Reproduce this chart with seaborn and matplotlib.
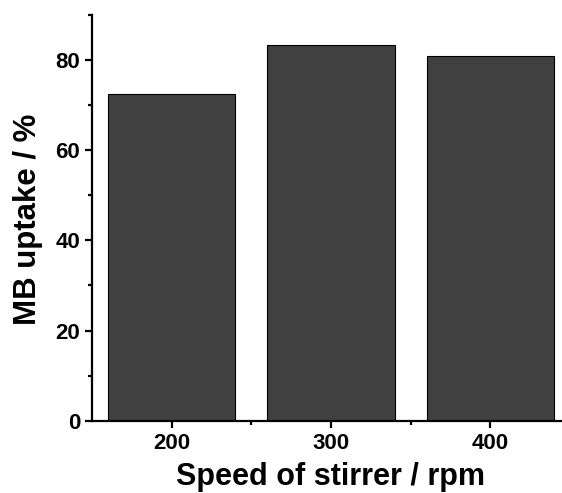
import matplotlib
matplotlib.use("Agg")
import matplotlib.pyplot as plt
import seaborn as sns
import pandas as pd
from matplotlib.ticker import MultipleLocator

speeds = ["200", "300", "400"]
uptake = [72.4, 83.3, 81.0]

df = pd.DataFrame({"speed": speeds, "uptake": uptake})

sns.set_style("ticks")
plt.rcParams['font.family'] = ['Liberation Sans', 'DejaVu Sans']
plt.rcParams['font.weight'] = 'bold'
plt.rcParams['text.color'] = 'black'
plt.rcParams['axes.labelcolor'] = 'black'
plt.rcParams['xtick.color'] = 'black'
plt.rcParams['ytick.color'] = 'black'

fig = plt.figure(figsize=(5.62, 4.93), dpi=100)
W, H = 562, 493
x0, x1 = 92, 570
y0, y1 = 420.7, 15
ax = fig.add_axes([x0 / W, (H - y0) / H, (x1 - x0) / W, (y0 - y1) / H])

sns.barplot(data=df, x="speed", y="uptake", ax=ax, color="#404040",
            saturation=1, width=0.8, edgecolor="black", linewidth=0.8)

ax.set_xlim(-0.5, 2.5)
ax.set_ylim(0, 90)
ax.yaxis.set_major_locator(MultipleLocator(20))
ax.yaxis.set_minor_locator(MultipleLocator(10))
ax.set_xticks([0, 1, 2], minor=False)
ax.set_xticks([0.5, 1.5], minor=True)

for s in ["top", "right"]:
    ax.spines[s].set_visible(False)
for s in ["left", "bottom"]:
    ax.spines[s].set_linewidth(1.6)
    ax.spines[s].set_color("black")

ax.tick_params(axis="both", which="major", direction="out", length=5, width=1.6,
               labelsize=16, colors="black")
ax.tick_params(axis="both", which="minor", direction="out", length=3, width=1.6,
               colors="black")
for lab in ax.get_xticklabels() + ax.get_yticklabels():
    lab.set_fontweight("bold")
    lab.set_color("black")

ax.set_xlabel("Speed of stirrer / rpm", fontsize=22, fontweight="bold", color="black")
ax.set_ylabel("MB uptake / %", fontsize=22.5, fontweight="bold", color="black")
ax.yaxis.set_label_coords(-(92 - 28) / (x1 - x0), (y0 - 219) / (y0 - y1))
ax.xaxis.set_label_coords(0.5, -(477 - y0) / (y0 - y1))
ax.xaxis.label.set_verticalalignment("center")
ax.yaxis.label.set_verticalalignment("center")

fig.savefig("out.png", dpi=100)
